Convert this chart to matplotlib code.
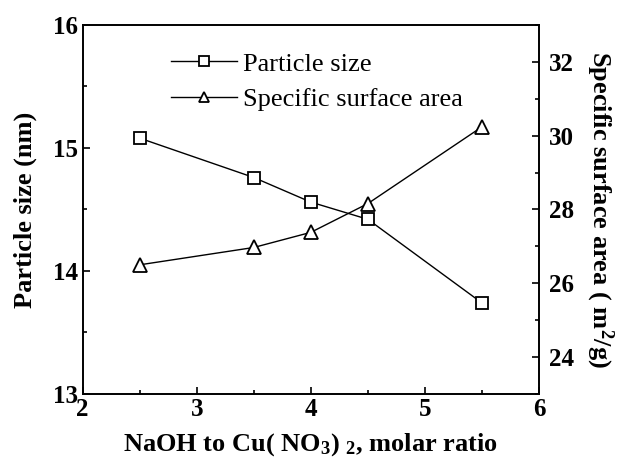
import matplotlib
matplotlib.use("Agg")
import matplotlib.pyplot as plt
from matplotlib.ticker import MultipleLocator

plt.rcParams['font.family'] = 'Liberation Serif'
plt.rcParams['mathtext.fontset'] = 'custom'
plt.rcParams['mathtext.rm'] = 'Liberation Serif:bold'
plt.rcParams['mathtext.it'] = 'Liberation Serif:bold'
plt.rcParams['mathtext.bf'] = 'Liberation Serif:bold'

ratio = [2.5, 3.5, 4.0, 4.5, 5.5]
particle_size = [15.08, 14.76, 14.56, 14.42, 13.74]
surface_area = [26.5, 26.97, 27.38, 28.16, 30.24]

fig = plt.figure(figsize=(6.18, 4.69), dpi=100)
ax = fig.add_axes([0.1337, 0.16, 0.7385, 0.7867])
ax2 = ax.twinx()

l1, = ax.plot(ratio, particle_size, color='black', lw=1.0, marker='s',
              ms=9, mfc='white', mec='black', mew=1.3, label='Particle size')
l2, = ax2.plot(ratio, surface_area, color='black', lw=1.0, marker='^',
               ms=10.5, mfc='white', mec='black', mew=1.3,
               label='Specific surface area')

ax.set_xlim(2, 6)
ax.set_ylim(13, 16)
ax2.set_ylim(23, 33)

ax.xaxis.set_major_locator(MultipleLocator(1))
ax.xaxis.set_minor_locator(MultipleLocator(0.5))
ax.yaxis.set_major_locator(MultipleLocator(1))
ax.yaxis.set_minor_locator(MultipleLocator(0.5))
ax2.yaxis.set_major_locator(MultipleLocator(2))
ax2.yaxis.set_minor_locator(MultipleLocator(1))

for a in (ax, ax2):
    a.tick_params(which='both', direction='in', labelsize=18, width=1.2, pad=3)
    a.tick_params(which='major', length=5)
    a.tick_params(which='minor', length=3)
    for lab in a.get_xticklabels() + a.get_yticklabels():
        lab.set_fontweight('bold')
    for sp in a.spines.values():
        sp.set_linewidth(1.2)
ax.tick_params(top=False, which='both')
ax.tick_params(axis='y', right=False, which='both')
ax2.tick_params(axis='y', pad=7)

ax.set_xlabel(r'NaOH to Cu( NO$_3$) $_2$, molar ratio', fontsize=19,
              fontweight='bold', labelpad=7)
ax.set_ylabel('Particle size (nm)', fontsize=19, fontweight='bold', labelpad=12)
ax2.set_ylabel(r'Specific surface area ( m$^2$/g)', fontsize=19,
               fontweight='bold', rotation=270, labelpad=30)

ax.legend(handles=[l1, l2], loc='upper left', bbox_to_anchor=(0.17, 0.955),
          frameon=False, fontsize=19, handlelength=2.5, handletextpad=0.25,
          labelspacing=0.45, borderaxespad=0, markerscale=0.75)

fig.savefig('out.png', dpi=100)
